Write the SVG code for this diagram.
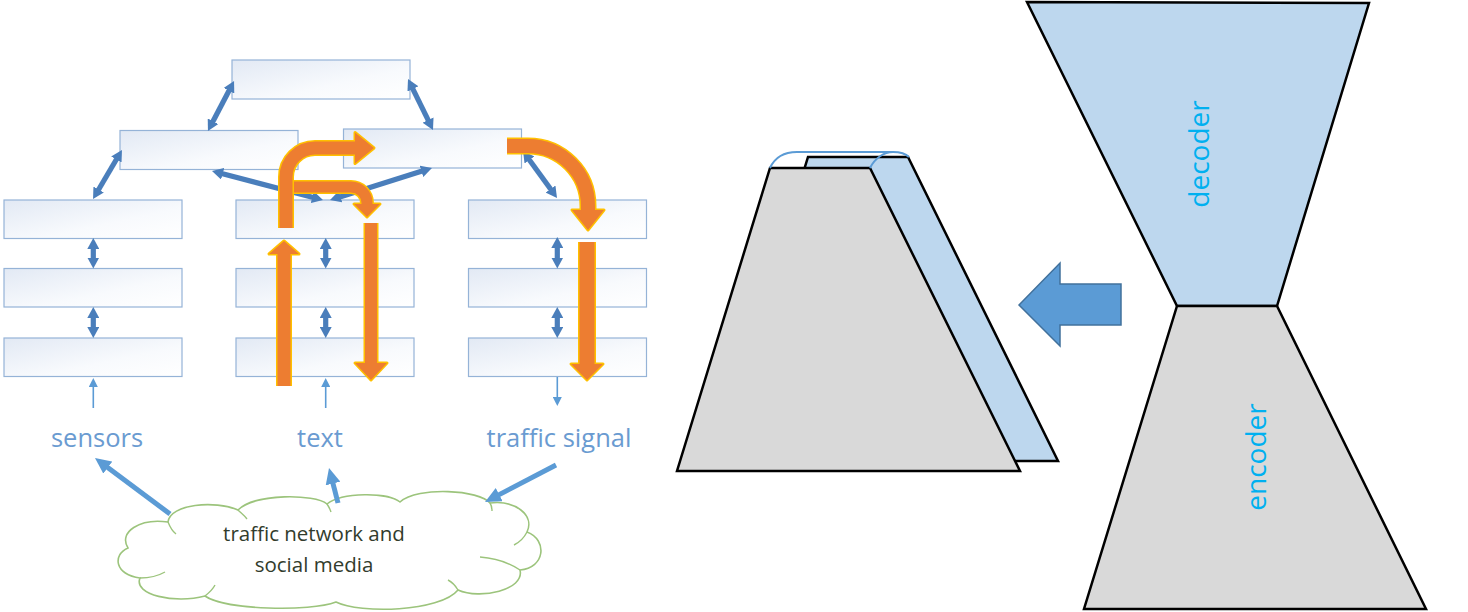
<svg xmlns="http://www.w3.org/2000/svg" width="1468" height="612" viewBox="0 0 1468 612">
<style>
.box{fill:url(#boxg);stroke:#95b3d7;stroke-width:1.2}
.dbl{stroke:#4a7ebb;stroke-width:5.2;fill:none;marker-start:url(#hd);marker-end:url(#hd)}
.thin{stroke:#5b9bd5;stroke-width:1.6;fill:none;marker-end:url(#ht)}
.thick{stroke:#5b9bd5;stroke-width:5;fill:none;marker-end:url(#hk)}
.lbl{font-family:"Open Sans","Liberation Sans",sans-serif;font-size:25.5px;fill:#6a9bd1;text-anchor:middle}
.ctext{font-family:"Open Sans","Liberation Sans",sans-serif;font-size:20.5px;fill:#323c2c;text-anchor:middle}
.ol{fill:none;stroke:#ffc000}
.of{fill:none;stroke:#ed7d31}
.oh1{fill:#ed7d31;stroke:#ffc000;stroke-width:3;stroke-linejoin:round}
.oh2{fill:#ed7d31}
.shape{stroke:#000;stroke-width:2.5;stroke-linejoin:miter}
.vt{font-family:"Open Sans","Liberation Sans",sans-serif;font-size:28px;fill:#00b0f0;text-anchor:middle}
</style>
<defs>
<linearGradient id="boxg" x1="0" y1="0" x2="1" y2="1">
<stop offset="0" stop-color="#e2e9f4"/>
<stop offset="0.6" stop-color="#f8fafd"/>
<stop offset="1" stop-color="#ffffff"/>
</linearGradient>
<marker id="hd" viewBox="0 0 11 12" markerUnits="userSpaceOnUse" markerWidth="11" markerHeight="12" refX="4" refY="6" orient="auto-start-reverse">
<path d="M0,0 L11,6 L0,12 z" fill="#4a7ebb"/>
</marker>
<marker id="ht" viewBox="0 0 9 9" markerUnits="userSpaceOnUse" markerWidth="9" markerHeight="9" refX="3" refY="4.5" orient="auto">
<path d="M0,0 L9,4.5 L0,9 z" fill="#5b9bd5"/>
</marker>
<marker id="hk" viewBox="0 0 16 15" markerUnits="userSpaceOnUse" markerWidth="16" markerHeight="15" refX="6" refY="7.5" orient="auto">
<path d="M0,0 L16,7.5 L0,15 z" fill="#5b9bd5"/>
</marker>
</defs>
<rect width="1468" height="612" fill="#fff"/>

<g id="boxes">
<rect id="n-top" class="box" x="232" y="60" width="178" height="39"/>
<rect id="n-l2a" class="box" x="120" y="130.5" width="178" height="39"/>
<rect id="n-l2b" class="box" x="343.5" y="129" width="178" height="39"/>
<rect id="n-c1r1" class="box" x="4" y="200" width="178" height="38.5"/>
<rect id="n-c1r2" class="box" x="4" y="268.5" width="178" height="38.5"/>
<rect id="n-c1r3" class="box" x="4" y="338" width="178" height="38.5"/>
<rect id="n-c2r1" class="box" x="236" y="200" width="178" height="38.5"/>
<rect id="n-c2r2" class="box" x="236" y="268.5" width="178" height="38.5"/>
<rect id="n-c2r3" class="box" x="236" y="338" width="178" height="38.5"/>
<rect id="n-c3r1" class="box" x="468.5" y="200" width="178" height="38.5"/>
<rect id="n-c3r2" class="box" x="468.5" y="268.5" width="178" height="38.5"/>
<rect id="n-c3r3" class="box" x="468.5" y="338" width="178" height="38.5"/>
</g>

<g id="labels">
<text class="lbl" x="97" y="447">sensors</text>
<text class="lbl" x="320" y="447">text</text>
<text class="lbl" x="559" y="447">traffic signal</text>
</g>

<g id="cloud">
<path d="M128,548 C118,532 140,518 168,522 C170,504 215,500 238,510 C255,493 315,494 327,504 C342,492 388,492 400,502 C418,486 480,490 490,503 C515,500 535,515 527,532 C548,540 545,568 520,570 C525,590 480,600 458,590 C440,612 360,614 336,602 C310,612 225,610 205,596 C175,604 133,595 140,578 C115,575 112,555 128,548 Z" fill="#fff" stroke="#9cc47c" stroke-width="1.6"/>
<path d="M168,522 C170,527 172,531 176,534 M238,510 C241,513 244,515 247,519 M327,504 C329,507 330,509 331,512 M490,503 C492,506 492,508 492,511 M527,532 C524,538 520,542 514,545 M520,570 C508,562 494,558 480,557 M140,578 C148,578 158,576 165,572 M205,596 C210,592 213,589 215,585 M458,590 C455,585 452,582 448,580" fill="none" stroke="#9cc47c" stroke-width="1.4"/>
<text class="ctext" x="314" y="541">traffic network and</text>
<text class="ctext" x="314" y="572">social media</text>
</g>

<g id="connectors">
<line class="dbl" x1="230.8" y1="87.2" x2="211.2" y2="124.8"/>
<line class="dbl" x1="411.1" y1="85.3" x2="429.9" y2="123.7"/>
<line class="dbl" x1="118.4" y1="156" x2="96.6" y2="193"/>
<line class="dbl" x1="218.8" y1="172.8" x2="316.2" y2="198.2"/>
<line class="dbl" x1="425.3" y1="170.1" x2="336.7" y2="197.9"/>
<line class="dbl" x1="527.1" y1="156.7" x2="552.9" y2="192.3"/>
<line class="dbl" x1="93.3" y1="245" x2="93.3" y2="261.5"/>
<line class="dbl" x1="93.3" y1="314" x2="93.3" y2="331"/>
<line class="dbl" x1="325.7" y1="245" x2="325.7" y2="261.5"/>
<line class="dbl" x1="325.7" y1="314" x2="325.7" y2="331"/>
<line class="dbl" x1="557.3" y1="244" x2="557.3" y2="261.5"/>
<line class="dbl" x1="557.3" y1="314" x2="557.3" y2="331"/>
<line class="thin" x1="93.3" y1="408" x2="93.3" y2="384"/>
<line class="thin" x1="325.7" y1="408" x2="325.7" y2="384"/>
<line class="thin" x1="557.3" y1="377" x2="557.3" y2="400"/>
<line class="thick" x1="170" y1="514" x2="103" y2="464"/>
<line class="thick" x1="338" y1="503" x2="331.5" y2="477.7"/>
<line class="thick" x1="556" y1="465" x2="493.9" y2="497.4"/>
</g>

<g id="orange-arrows">
<g id="oa-hook">
<path class="ol" stroke-width="14" d="M290,187 L351,187 A16,16 0 0 1 367,203 L367,206"/>
<polygon class="oh1" points="354,204 380,204 367,217"/>
<path class="of" stroke-width="11" d="M290,187 L351,187 A16,16 0 0 1 367,203 L367,206"/>
<polygon class="oh2" points="354,204 380,204 367,217"/>
</g>
<g id="oa-up-curve">
<path class="ol" stroke-width="16" d="M286,228 L286,177 A29,29 0 0 1 315,148 L357,148"/>
<polygon class="oh1" points="355,132.5 374,148 355,163.5"/>
<path class="of" stroke-width="13" d="M286,228 L286,177 A29,29 0 0 1 315,148 L357,148"/>
<polygon class="oh2" points="355,132.5 374,148 355,163.5"/>
</g>
<g id="oa-down-mid">
<path class="ol" stroke-width="15" d="M371,223 L371,365"/>
<polygon class="oh1" points="355,363 387,363 371,380"/>
<path class="of" stroke-width="12" d="M371,223 L371,365"/>
<polygon class="oh2" points="355,363 387,363 371,380"/>
</g>
<g id="oa-up">
<path class="ol" stroke-width="16" d="M284,386 L284,252"/>
<polygon class="oh1" points="269,254 299,254 284,241"/>
<path class="of" stroke-width="13" d="M284,386 L284,252"/>
<polygon class="oh2" points="269,254 299,254 284,241"/>
</g>
<g id="oa-right-curve">
<path class="ol" stroke-width="17" d="M507,146 L528,146 A60,60 0 0 1 588,206 L588,212"/>
<polygon class="oh1" points="572,210 604,210 588,230"/>
<path class="of" stroke-width="14" d="M507,146 L528,146 A60,60 0 0 1 588,206 L588,212"/>
<polygon class="oh2" points="572,210 604,210 588,230"/>
</g>
<g id="oa-down-right">
<path class="ol" stroke-width="18" d="M587,242 L587,366"/>
<polygon class="oh1" points="571,364 603,364 587,380"/>
<path class="of" stroke-width="15" d="M587,242 L587,366"/>
<polygon class="oh2" points="571,364 603,364 587,380"/>
</g>
</g>

<g id="stacked-model">
<polygon class="shape" points="808,157 908,157 1058,461 715,461" fill="#bdd7ee"/>
<polygon class="shape" points="770,168 870,168 1020,471 677,471" fill="#d9d9d9"/>
<path d="M770,168 C775,157 784,152 797,152 L893,152 C900,152 906,154 909,157 M870,168 C875,158 884,152 893,152" fill="none" stroke="#5b9bd5" stroke-width="2"/>
</g>

<g id="block-arrow">
<polygon points="1019,305 1060,263 1060,284 1121,284 1121,325 1060,325 1060,346" fill="#5b9bd5" stroke="#41719c" stroke-width="1.5"/>
</g>

<g id="decoder">
<polygon class="shape" points="1027,2 1369,3 1277,306 1177,306" fill="#bdd7ee"/>
<text class="vt" transform="translate(1209,154) rotate(-90)">decoder</text>
</g>
<g id="encoder">
<polygon class="shape" points="1177,306 1277,306 1426,609 1084,609" fill="#d9d9d9"/>
<text class="vt" transform="translate(1266,457) rotate(-90)">encoder</text>
</g>
</svg>
